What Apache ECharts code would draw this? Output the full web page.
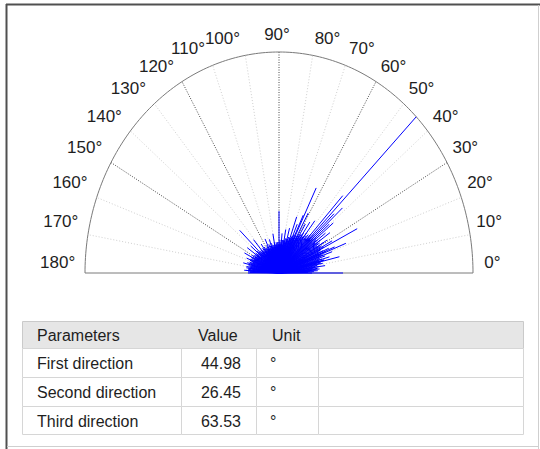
<!DOCTYPE html>
<html>
<head>
<meta charset="utf-8">
<script src="https://cdn.jsdelivr.net/npm/echarts@6/dist/echarts.min.js"></script>
<style>
  html, body { margin: 0; padding: 0; background: #ffffff; }
  #chart { width: 540px; height: 449px; }
</style>
</head>
<body>
<div id="chart"></div>
<script>
// Angular tick positions (degrees) and their labels
const tickAngles = [0, 10, 20, 30, 40, 50, 60, 70, 80, 90, 100, 110, 120, 130, 140, 150, 160, 170, 180];
const tickLabels = ['0°', '10°', '20°', '30°', '40°', '50°', '60°', '70°', '80°', '90°',
  '100°', '110°', '120°', '130°', '140°', '150°', '160°', '170°', '180°'];
// Spokes drawn darker than the rest
const majorSpokes = [30, 60, 90, 120, 150];

// Dense core of orientation rays: direction (deg) and normalised length
const coreAngles = [
  0, 1, 2, 3, 4, 5, 6, 7, 8, 9, 10, 11, 12, 13, 14, 15, 16, 17, 18, 19,
  20, 21, 22, 23, 24, 25, 26, 27, 28, 29, 30, 31, 32, 33, 34, 35, 36, 37, 38, 39,
  40, 41, 42, 43, 44, 45, 46, 47, 48, 49, 50, 51, 52, 53, 54, 55, 56, 57, 58, 59,
  60, 61, 62, 63, 64, 65, 66, 67, 68, 69, 70, 71, 72, 73, 74, 75, 76, 77, 78, 79,
  80, 81, 82, 83, 84, 85, 86, 87, 88, 89, 90, 91, 92, 93, 94, 95, 96, 97, 98, 99,
  100, 101, 102, 103, 104, 105, 106, 107, 108, 109, 110, 111, 112, 113, 114, 115, 116, 117, 118, 119,
  120, 121, 122, 123, 124, 125, 126, 127, 128, 129, 130, 131, 132, 133, 134, 135, 136, 137, 138, 139,
  140, 141, 142, 143, 144, 145, 146, 147, 148, 149, 150, 151, 152, 153, 154, 155, 156, 157, 158, 159,
  160, 161, 162, 163, 164, 165, 166, 167, 168, 169, 170, 171, 172, 173, 174, 175, 176, 177, 178, 179, 180
];
const coreLengths = [
  0.17, 0.15, 0.18, 0.16, 0.19, 0.17, 0.20, 0.18, 0.21, 0.19, 0.20, 0.23, 0.20, 0.22, 0.24, 0.21, 0.23, 0.22, 0.25, 0.22,
  0.24, 0.23, 0.26, 0.22, 0.25, 0.23, 0.24, 0.26, 0.23, 0.25, 0.24, 0.27, 0.23, 0.25, 0.24, 0.26, 0.23, 0.25, 0.24, 0.22,
  0.25, 0.23, 0.24, 0.22, 0.25, 0.23, 0.22, 0.24, 0.21, 0.23, 0.22, 0.20, 0.23, 0.21, 0.20, 0.22, 0.19, 0.21, 0.20, 0.18,
  0.20, 0.19, 0.17, 0.19, 0.18, 0.17, 0.19, 0.16, 0.18, 0.17, 0.16, 0.17, 0.15, 0.17, 0.16, 0.15, 0.16, 0.14, 0.16, 0.15,
  0.14, 0.15, 0.13, 0.15, 0.14, 0.13, 0.14, 0.13, 0.15, 0.13, 0.14, 0.13, 0.12, 0.14, 0.13, 0.12, 0.14, 0.12, 0.13, 0.12,
  0.14, 0.12, 0.13, 0.11, 0.13, 0.12, 0.14, 0.12, 0.13, 0.11, 0.13, 0.12, 0.14, 0.12, 0.11, 0.13, 0.12, 0.14, 0.12, 0.13,
  0.11, 0.13, 0.12, 0.14, 0.12, 0.13, 0.12, 0.14, 0.11, 0.13, 0.12, 0.14, 0.13, 0.12, 0.14, 0.13, 0.12, 0.14, 0.13, 0.15,
  0.13, 0.14, 0.12, 0.15, 0.13, 0.14, 0.15, 0.13, 0.15, 0.14, 0.16, 0.14, 0.15, 0.13, 0.16, 0.14, 0.15, 0.16, 0.14, 0.16,
  0.15, 0.14, 0.16, 0.15, 0.17, 0.15, 0.16, 0.14, 0.16, 0.15, 0.17, 0.15, 0.16, 0.14, 0.16, 0.15, 0.17, 0.15, 0.16, 0.15, 0.16
];

// Longer individual rays standing out of the core
const spikeAngles = [
  44.98, 63.53, 26.45, 90, 136.4, 0, 46.8, 42, 43.4, 39, 34.8, 40.5, 37,
  70.3, 64.5, 55.4, 52, 58.5, 61, 67, 75, 80, 85,
  22.4, 15.7, 11.8, 21.3, 13.3, 23.6, 19.4, 14.3, 28, 31, 8, 5, 3,
  100, 108, 115, 125, 131, 140, 145, 153, 158, 166, 172, 176
];
const spikeLengths = [
  1.00, 0.43, 0.45, 0.28, 0.28, 0.33, 0.48, 0.44, 0.39, 0.36, 0.32, 0.34, 0.30,
  0.27, 0.29, 0.28, 0.30, 0.26, 0.31, 0.24, 0.21, 0.20, 0.18,
  0.31, 0.27, 0.22, 0.37, 0.32, 0.28, 0.29, 0.24, 0.31, 0.29, 0.24, 0.21, 0.20,
  0.18, 0.16, 0.17, 0.16, 0.20, 0.19, 0.20, 0.20, 0.18, 0.19, 0.17, 0.18
];

// Summary table
const tableHeaders = ['Parameters', 'Value', 'Unit'];
const paramNames = ['First direction', 'Second direction', 'Third direction'];
const paramValues = [44.98, 26.45, 63.53];
const paramUnits = ['°', '°', '°'];

const FONT = '"Liberation Sans", Arial, Helvetica, sans-serif';
const RAY_COLOR = '#0000ff';
const DEG = Math.PI / 180;

function toPairs(a, b) { return a.map((v, i) => [v, b[i]]); }

// A ray from the origin to (length, angle), projected through the cartesian scales
function renderRay(params, api) {
  const a = api.value(0) * DEG;
  const r = api.value(1);
  const p0 = api.coord([0, 0]);
  const p1 = api.coord([r * Math.cos(a), r * Math.sin(a)]);
  return {
    type: 'line',
    shape: { x1: p0[0], y1: p0[1], x2: p1[0], y2: p1[1] },
    style: { stroke: RAY_COLOR, lineWidth: 1 }
  };
}

function renderSpoke(params, api) {
  const deg = api.value(0);
  const a = deg * DEG;
  const p0 = api.coord([0, 0]);
  const p1 = api.coord([Math.cos(a), Math.sin(a)]);
  const major = majorSpokes.indexOf(deg) >= 0;
  return {
    type: 'line',
    shape: { x1: p0[0], y1: p0[1], x2: p1[0], y2: p1[1] },
    style: {
      stroke: major ? '#4a4a4a' : '#cfcfcf',
      lineWidth: 1,
      lineDash: major ? [1, 1.5] : [1, 2]
    }
  };
}

// Outer half-circle and the diameter along 0°–180°
function renderFrame(params, api) {
  const pts = [];
  for (let d = 0; d <= 180; d += 1) {
    pts.push(api.coord([Math.cos(d * DEG), Math.sin(d * DEG)]));
  }
  const l = api.coord([-1, 0]), r = api.coord([1, 0]);
  return {
    type: 'group',
    children: [
      { type: 'polyline', shape: { points: pts }, style: { stroke: '#7a7a7a', lineWidth: 1, fill: null } },
      { type: 'line', shape: { x1: l[0], y1: l[1], x2: r[0], y2: r[1] }, style: { stroke: '#7a7a7a', lineWidth: 1 } }
    ]
  };
}

function renderTickLabel(params, api) {
  const deg = api.value(0);
  const a = deg * DEG;
  const p = api.coord([1.1 * Math.cos(a), 1.1 * Math.sin(a)]);
  const s3 = Math.pow(Math.sin(a), 3);
  let dx;
  if (deg < 90) dx = 12 * s3;
  else if (deg > 90) dx = -(8 + 12 * s3);
  else dx = -2;
  const dy = 4.5 - 15 * Math.pow(Math.cos(a), 4);
  return {
    type: 'text',
    x: p[0] + dx,
    y: p[1] + dy,
    style: {
      text: tickLabels[params.dataIndex],
      fill: '#1e1e1e',
      font: '17px ' + FONT,
      align: 'center', verticalAlign: 'middle',
      textAlign: 'center', textVerticalAlign: 'middle'
    }
  };
}

// Table drawn as graphic elements
const TABLE = { left: 22, right: 523, top: 321, headH: 27, rowH: 29, cols: [22, 181, 256, 318, 523] };
function buildTable() {
  const els = [];
  const t = TABLE;
  els.push({
    type: 'rect', shape: { x: t.left + 0.5, y: t.top + 0.5, width: t.right - t.left, height: t.headH },
    style: { fill: '#e6e6e6', stroke: '#cacaca', lineWidth: 1 }
  });
  const headX = [37, 198, 272];
  tableHeaders.forEach((h, i) => {
    els.push({
      type: 'text', x: headX[i], y: t.top + t.headH / 2 + 1,
      style: { text: h, fill: '#1e1e1e', font: '16px ' + FONT, align: 'left', verticalAlign: 'middle' }
    });
  });
  paramNames.forEach((name, r) => {
    const y0 = t.top + t.headH + r * t.rowH;
    const h = r === paramNames.length - 1 ? t.rowH - 1 : t.rowH;
    for (let c = 0; c < t.cols.length - 1; c++) {
      els.push({
        type: 'rect', shape: { x: t.cols[c] + 0.5, y: y0 + 0.5, width: t.cols[c + 1] - t.cols[c], height: h },
        style: { fill: '#ffffff', stroke: '#d6d6d6', lineWidth: 1 }
      });
    }
    const yc = y0 + h / 2 + 1;
    els.push({ type: 'text', x: 37, y: yc,
      style: { text: name, fill: '#1e1e1e', font: '16px ' + FONT, align: 'left', verticalAlign: 'middle' } });
    els.push({ type: 'text', x: 241, y: yc,
      style: { text: paramValues[r].toFixed(2), fill: '#1e1e1e', font: '16px ' + FONT, align: 'right', verticalAlign: 'middle' } });
    els.push({ type: 'text', x: 270, y: yc,
      style: { text: paramUnits[r], fill: '#1e1e1e', font: '16px ' + FONT, align: 'left', verticalAlign: 'middle' } });
  });
  // outer panel border: dark on top/left, light on right/bottom
  els.push({ type: 'line', shape: { x1: 6, y1: 4.5, x2: 540, y2: 4.5 }, style: { stroke: '#505050', lineWidth: 2 } });
  els.push({ type: 'line', shape: { x1: 6.5, y1: 4, x2: 6.5, y2: 449 }, style: { stroke: '#505050', lineWidth: 2 } });
  els.push({ type: 'line', shape: { x1: 538.5, y1: 5, x2: 538.5, y2: 449 }, style: { stroke: '#cfcfcf', lineWidth: 1 } });
  els.push({ type: 'line', shape: { x1: 7, y1: 446.5, x2: 539, y2: 446.5 }, style: { stroke: '#cfcfcf', lineWidth: 1 } });
  return els;
}

const chart = echarts.init(document.getElementById('chart'), null, { renderer: 'svg' });
chart.setOption({
  animation: false,
  backgroundColor: '#ffffff',
  grid: { left: 85, right: 67, top: 52, bottom: 176 },
  xAxis: { type: 'value', min: -1, max: 1, show: false },
  yAxis: { type: 'value', min: 0, max: 1, show: false },
  graphic: buildTable(),
  series: [
    { type: 'custom', renderItem: renderSpoke, data: tickAngles.slice(1, -1).map(a => [a, 0]), z: 1, silent: true },
    { type: 'custom', renderItem: renderFrame, data: [[0, 0]], z: 2, silent: true },
    { type: 'custom', renderItem: renderRay, data: toPairs(coreAngles, coreLengths), z: 3, silent: true },
    { type: 'custom', renderItem: renderRay, data: toPairs(spikeAngles, spikeLengths), z: 3, silent: true },
    { type: 'custom', renderItem: renderTickLabel, data: tickAngles.map(a => [a, 0]), z: 4, silent: true }
  ]
});
</script>
</body>
</html>
